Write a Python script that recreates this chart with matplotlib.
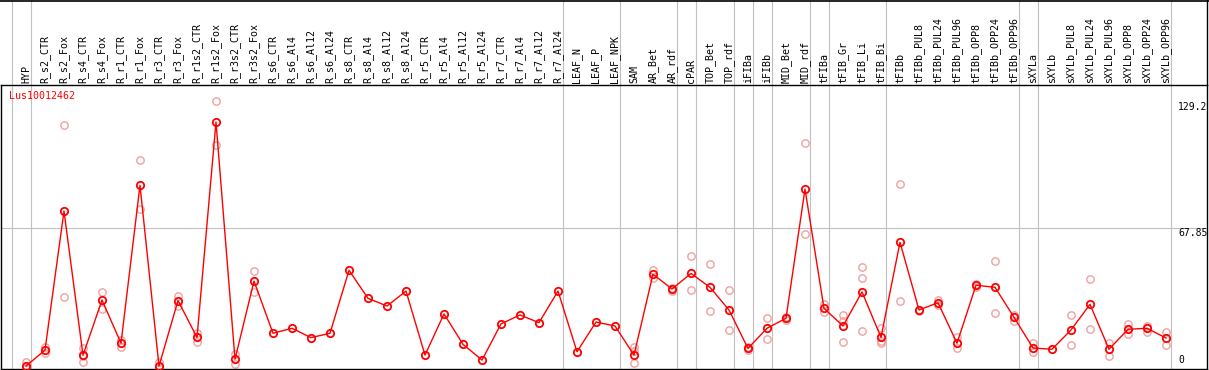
import matplotlib
matplotlib.use("Agg")
import matplotlib.pyplot as plt
from matplotlib.transforms import blended_transform_factory
from matplotlib.lines import Line2D

gene = "Lus10012462"

samples = ["HYP", "R_s2_CTR", "R_s2_Fox", "R_s4_CTR", "R_s4_Fox", "R_r1_CTR",
           "R_r1_Fox", "R_r3_CTR", "R_r3_Fox", "R_r1s2_CTR", "R_r1s2_Fox",
           "R_r3s2_CTR", "R_r3s2_Fox", "R_s6_CTR", "R_s6_Al4", "R_s6_Al12",
           "R_s6_Al24", "R_s8_CTR", "R_s8_Al4", "R_s8_Al12", "R_s8_Al24",
           "R_r5_CTR", "R_r5_Al4", "R_r5_Al12", "R_r5_Al24", "R_r7_CTR",
           "R_r7_Al4", "R_r7_Al12", "R_r7_Al24", "LEAF_N", "LEAF_P", "LEAF_NPK",
           "SAM", "AR_Bet", "AR_rdf", "cPAR", "TOP_Bet", "TOP_rdf", "iFIBa",
           "iFIBb", "MID_Bet", "MID_rdf", "tFIBa", "tFIB_Gr", "tFIB_Li",
           "tFIB_Bi", "tFIBb", "tFIBb_PUL8", "tFIBb_PUL24", "tFIBb_PUL96",
           "tFIBb_OPP8", "tFIBb_OPP24", "tFIBb_OPP96", "sXYLa", "sXYLb",
           "sXYLb_PUL8", "sXYLb_PUL24", "sXYLb_PUL96", "sXYLb_OPP8",
           "sXYLb_OPP24", "sXYLb_OPP96"]

means = [1.4, 9.1, 76.0, 6.6, 33.2, 12.4, 88.4, 1.4, 32.9, 15.2, 118.9, 4.7,
         42.3, 17.2, 19.6, 15.1, 17.2, 47.5, 34.0, 30.3, 37.5, 6.7, 26.5, 11.9,
         4.3, 21.7, 26.0, 22.3, 37.5, 8.3, 22.6, 20.7, 6.7, 45.6, 38.5, 46.0,
         39.3, 28.4, 9.9, 19.6, 24.4, 86.6, 29.2, 20.7, 37.1, 15.2, 61.0, 28.4,
         31.9, 12.4, 40.3, 39.3, 24.9, 10.1, 9.5, 18.8, 31.1, 9.5, 19.1, 19.6,
         14.9]

replicates = [[3.5, 0.5], [10.7, 7.5], [117.4, 34.5], [10.3, 3.5, 6.4],
              [37.0, 29.0], [14.0, 10.4], [100.6, 76.8], [3.5, 0.3],
              [35.1, 30.5], [17.2, 13.1], [129.2, 107.8], [7.1, 2.3],
              [47.2, 36.9], [], [], [], [], [], [], [], [], [], [], [], [], [],
              [], [], [], [], [], [], [10.7, 3.0, 8.5], [47.6, 43.6],
              [37.5, 39.0], [54.4, 38.0], [50.5, 27.9], [38.0, 18.8],
              [10.5, 9.3], [24.5, 14.4], [25.0, 23.5], [108.6, 64.8],
              [31.3, 27.3], [26.0, 12.8, 23.3], [48.9, 43.6, 18.3],
              [19.6, 13.5, 12.4], [89.0, 32.7], [28.6, 28.0], [33.0, 30.6],
              [15.3, 10.0], [41.0, 39.6], [51.8, 26.8], [26.1, 23.3],
              [12.4, 8.3], [], [25.8, 11.4], [43.2, 19.1], [12.4, 6.3],
              [21.7, 17.0], [20.8, 18.0], [17.8, 11.4]]

# group separators sit just after these columns
groupEnds = [-1, 0, 28, 31, 34, 35, 37, 38, 39, 41, 42, 45, 52, 53, 60]
maxVal = 129.2
midVal = 67.85

W, H = 1209, 370
fig = plt.figure(figsize=(W / 100, H / 100), dpi=100)
plotTop, plotBottom, plotLeft, plotRight = 85, 369, 1, 1207
ax = fig.add_axes([plotLeft / W, (H - plotBottom) / H,
                   (plotRight - plotLeft) / W, (plotBottom - plotTop) / H])

pxPerUnit = 141 / midVal
colStep = 19
x0 = 26
ax.set_xlim((plotLeft - x0) / colStep, (plotRight - x0) / colStep)
ax.set_ylim(0, (plotBottom - plotTop) / pxPerUnit)
ax.set_xticks([])
ax.set_yticks([])
for s in ax.spines.values():
    s.set_color("black")
    s.set_linewidth(1.0)

grey = "#c0c0c0"
red = "#ff0000"
pink = "#f0a0a0"
mono = "DejaVu Sans Mono"

ax.axhline(midVal, color=grey, lw=0.8, zorder=1)
topFrac = (plotBottom - 0) / (plotBottom - plotTop)
for g in groupEnds:
    ax.axvline(g + 4.5 / colStep, ymin=0, ymax=topFrac, color=grey, lw=0.8,
               clip_on=False, zorder=1)

xs = list(range(len(samples)))
for i, reps in enumerate(replicates):
    if reps:
        ax.plot([i] * len(reps), reps, "o", ms=5.3, mfc="none", mec=pink,
                mew=1.0, clip_on=False, zorder=2)
ax.plot(xs, means, "-", color=red, lw=1.0, zorder=3, clip_on=False)
ax.plot(xs, means, "o", ms=5.3, mfc="none", mec=red, mew=1.3, zorder=4,
        clip_on=False)

# column labels above the plot
trans = blended_transform_factory(ax.transData, fig.transFigure)
for i, name in enumerate(samples):
    fig.text(i, (H - 83) / H, name, transform=trans, rotation=90,
             ha="center", va="bottom", fontsize=7.2, family=mono)

fig.text(9 / W, (H - 101) / H, gene, color=red, fontsize=7.2, family=mono,
         ha="left", va="bottom")

labX = 1178 / W
fig.text(labX, (H - 102) / H, str(maxVal), fontsize=7, family=mono, va="top")
fig.text(labX, (H - 228) / H, str(midVal), fontsize=7, family=mono, va="top")
fig.text(labX, (H - 365) / H, "0", fontsize=7, family=mono, va="bottom")

# outer frame of the label area
fig.add_artist(Line2D([0, 1], [1 - 0.5 / H, 1 - 0.5 / H], color="black",
                      lw=1.2, transform=fig.transFigure))
fig.add_artist(Line2D([plotRight / W, plotRight / W], [1, (H - plotTop) / H],
                      color="black", lw=1.0, transform=fig.transFigure))

fig.savefig("out.png", dpi=100)
